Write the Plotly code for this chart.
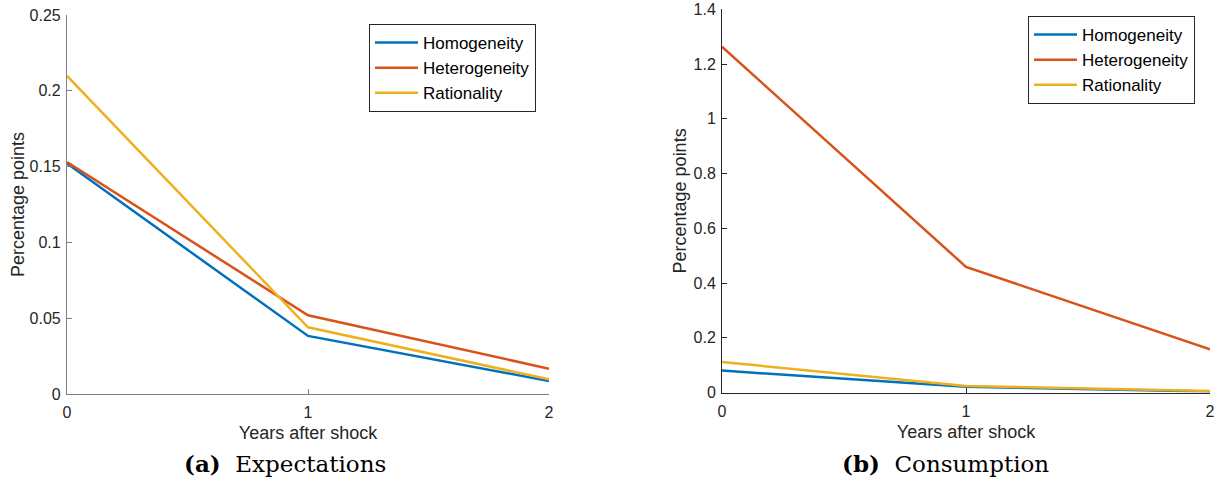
import plotly.graph_objects as go

years = [0, 1, 2]
series_names = ["Homogeneity", "Heterogeneity", "Rationality"]
colors = ["#0072BD", "#D95319", "#EDB120"]

# Panel (a): Expectations
exp_homogeneity = [0.152, 0.0383, 0.0086]
exp_heterogeneity = [0.153, 0.0519, 0.0167]
exp_rationality = [0.2098, 0.044, 0.0097]

# Panel (b): Consumption
con_homogeneity = [0.080, 0.021, 0.004]
con_heterogeneity = [1.263, 0.459, 0.158]
con_rationality = [0.1115, 0.024, 0.0055]

left_ticks = [0, 0.05, 0.1, 0.15, 0.2, 0.25]
right_ticks = [0, 0.2, 0.4, 0.6, 0.8, 1, 1.2, 1.4]
x_ticks = [0, 1, 2]

W, H = 1220, 486
fig = go.Figure()

for name, col, ys in zip(series_names, colors, [exp_homogeneity, exp_heterogeneity, exp_rationality]):
    fig.add_trace(go.Scatter(x=years, y=ys, mode="lines", name=name,
                             line=dict(color=col, width=2.5),
                             xaxis="x", yaxis="y", legend="legend"))
for name, col, ys in zip(series_names, colors, [con_homogeneity, con_heterogeneity, con_rationality]):
    fig.add_trace(go.Scatter(x=years, y=ys, mode="lines", name=name,
                             line=dict(color=col, width=2.5),
                             xaxis="x2", yaxis="y2", legend="legend2"))

font_family = "Liberation Sans, Arial, sans-serif"
tick_font = dict(family=font_family, size=16, color="#262626")
title_font = dict(family=font_family, size=18, color="#262626")

def xdom(a, b):
    return [a / W, b / W]

def ydom(top, bottom):
    return [(H - bottom) / H, (H - top) / H]

axis_common = dict(showgrid=False, zeroline=False, ticks="inside", ticklen=5,
                   showline=True, mirror=False, tickfont=tick_font, automargin=False)

left_axis_col = "#7f7f7f"
right_axis_col = "#262626"

fig.update_layout(
    width=W, height=H,
    margin=dict(l=0, r=0, t=0, b=0),
    paper_bgcolor="white", plot_bgcolor="white",
    xaxis=dict(domain=xdom(67, 549), range=[0, 2], tickvals=x_ticks,
               linecolor=left_axis_col, tickcolor=left_axis_col, linewidth=1.2,
               ticklabelstandoff=4,
               title=dict(text="Years after shock", font=title_font, standoff=6),
               anchor="y", **axis_common),
    yaxis=dict(domain=ydom(15, 394), range=[0, 0.25], tickvals=left_ticks,
               linecolor=left_axis_col, tickcolor=left_axis_col, linewidth=1.2,
               ticklabelstandoff=2,
               title=dict(text="Percentage points", font=title_font, standoff=0),
               anchor="x", **axis_common),
    xaxis2=dict(domain=xdom(722, 1210), range=[0, 2], tickvals=x_ticks,
                linecolor=right_axis_col, tickcolor=right_axis_col, linewidth=1,
                ticklabelstandoff=4,
                title=dict(text="Years after shock", font=title_font, standoff=6),
                anchor="y2", **axis_common),
    yaxis2=dict(domain=ydom(9.3, 392.5), range=[0, 1.4], tickvals=right_ticks,
                linecolor=right_axis_col, tickcolor=right_axis_col, linewidth=1,
                ticklabelstandoff=2,
                title=dict(text="Percentage points", font=title_font, standoff=2),
                anchor="x2", **axis_common),
    legend=dict(x=369 / W, y=(H - 24) / H, xanchor="left", yanchor="top",
                bordercolor="#262626", borderwidth=1, bgcolor="white",
                font=dict(family=font_family, size=17, color="#000000"),
                tracegroupgap=0, itemwidth=43),
    legend2=dict(x=1028 / W, y=(H - 16) / H, xanchor="left", yanchor="top",
                 bordercolor="#262626", borderwidth=1, bgcolor="white",
                 font=dict(family=font_family, size=17, color="#000000"),
                 tracegroupgap=0, itemwidth=43),
    showlegend=True,
)

cap_font = dict(family="DejaVu Serif, Liberation Serif, serif", size=23, color="#000000")
fig.add_annotation(text="<b>(a)</b>&nbsp;&nbsp;Expectations", x=285 / W, y=(H - 463) / H,
                   xref="paper", yref="paper", showarrow=False, font=cap_font,
                   xanchor="center", yanchor="middle")
fig.add_annotation(text="<b>(b)</b>&nbsp;&nbsp;Consumption", x=945 / W, y=(H - 463) / H,
                   xref="paper", yref="paper", showarrow=False, font=cap_font,
                   xanchor="center", yanchor="middle")

fig.write_html("out.html")
